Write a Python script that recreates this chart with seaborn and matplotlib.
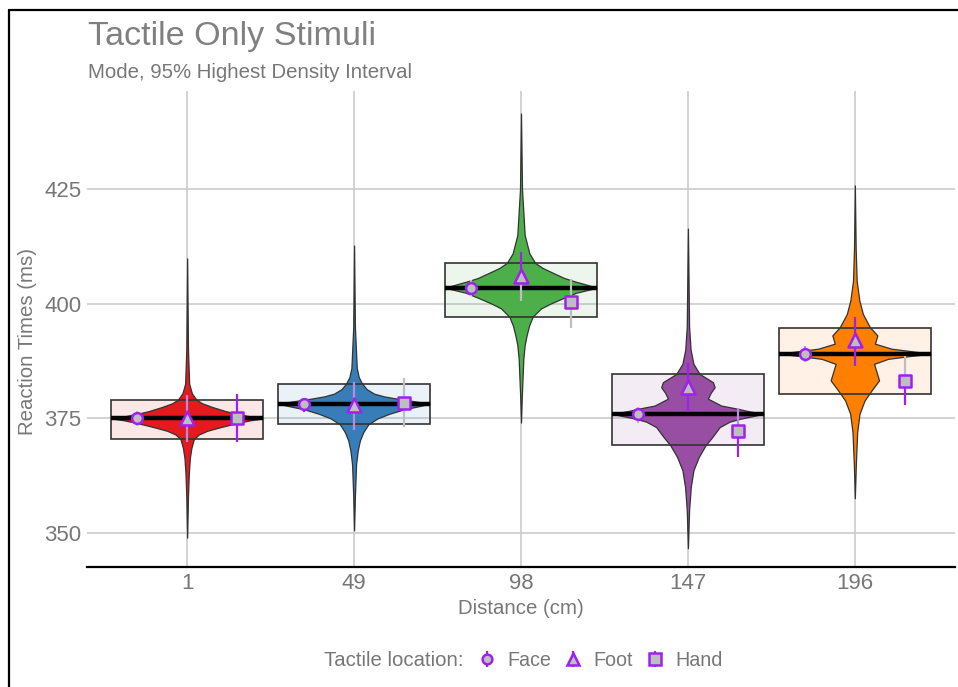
import numpy as np
import pandas as pd
import seaborn as sns
import matplotlib.pyplot as plt
from matplotlib.lines import Line2D
from matplotlib.legend_handler import HandlerTuple

# ----------------------------------------------------------------------
# DATA
# ----------------------------------------------------------------------

distances = ['1', '49', '98', '147', '196']
group_colors = ['#E41A1C', '#377EB8', '#4DAF4A', '#984EA3', '#FF7F00']

# overall mode and 95% HDI per distance
modes = [375.0, 378.2, 403.5, 376.0, 389.1]
hdi_lo = [370.5, 373.7, 397.2, 369.3, 380.4]
hdi_hi = [379.1, 382.6, 408.9, 384.7, 394.7]

# violin outlines: reaction time levels and half-widths (category units)
violin_y = [
    [349.0, 358.0, 363.0, 366.3, 368.5, 370.5, 371.5, 372.3, 373.1, 374.0, 374.6,
     375.0, 375.5, 376.0, 376.6, 377.5, 378.3, 379.1, 380.5, 382.6, 390.0, 409.9],
    [350.6, 358.0, 365.0, 368.0, 370.2, 372.0, 373.7, 375.0, 376.0, 377.0, 377.6,
     378.2, 378.7, 379.3, 379.8, 380.4, 381.4, 382.6, 384.0, 386.0, 395.0, 412.7],
    [374.1, 380.0, 388.0, 391.0, 393.0, 395.2, 397.2, 399.0, 400.1, 401.2, 402.4,
     403.5, 404.3, 404.8, 405.6, 406.6, 407.8, 408.9, 411.0, 415.0, 425.0, 441.5],
    [346.7, 355.0, 360.0, 363.7, 366.6, 369.1, 370.9, 373.1, 374.3, 374.9, 376.0,
     376.6, 377.1, 377.8, 379.3, 380.5, 381.8, 382.9, 384.7, 386.9, 390.0, 395.0, 416.4],
    [357.6, 365.0, 372.0, 376.0, 378.9, 381.1, 383.3, 385.1, 386.9, 388.0, 388.6,
     389.1, 389.7, 390.2, 391.3, 393.1, 394.9, 397.8, 400.7, 405.0, 412.0, 425.8],
]
violin_w = [
    [0, 0.005, 0.01, 0.016, 0.025, 0.04, 0.07, 0.12, 0.2, 0.3, 0.38,
     0.455, 0.37, 0.3, 0.23, 0.15, 0.09, 0.055, 0.028, 0.012, 0.005, 0],
    [0, 0.005, 0.012, 0.022, 0.035, 0.055, 0.085, 0.14, 0.21, 0.3, 0.38,
     0.455, 0.37, 0.26, 0.18, 0.12, 0.075, 0.048, 0.028, 0.016, 0.005, 0],
    [0, 0.005, 0.014, 0.022, 0.033, 0.048, 0.07, 0.12, 0.18, 0.25, 0.33,
     0.455, 0.38, 0.33, 0.26, 0.2, 0.13, 0.085, 0.05, 0.022, 0.006, 0],
    [0, 0.007, 0.017, 0.033, 0.065, 0.105, 0.145, 0.19, 0.25, 0.31, 0.455,
     0.36, 0.3, 0.2, 0.12, 0.135, 0.16, 0.15, 0.07, 0.033, 0.016, 0.007, 0],
    [0, 0.006, 0.014, 0.028, 0.058, 0.1, 0.145, 0.13, 0.115, 0.2, 0.33,
     0.455, 0.33, 0.22, 0.12, 0.135, 0.09, 0.048, 0.027, 0.011, 0.005, 0],
]

# per tactile location: mode and 95% HDI
locations = ['Face', 'Foot', 'Hand']
face_mode = [375.0, 378.2, 403.5, 376.0, 389.1]
face_lo = [373.3, 376.4, 401.7, 374.0, 387.3]
face_hi = [376.6, 379.5, 405.2, 377.5, 390.7]
foot_mode = [375.1, 377.9, 406.0, 381.8, 392.0]
foot_lo = [369.8, 372.5, 400.6, 376.4, 386.4]
foot_hi = [380.0, 382.9, 411.3, 387.1, 397.1]
hand_mode = [375.0, 378.4, 400.4, 372.2, 383.1]
hand_lo = [369.8, 373.1, 394.7, 366.6, 378.0]
hand_hi = [380.4, 383.8, 405.5, 377.3, 388.7]

# ----------------------------------------------------------------------
# STYLE
# ----------------------------------------------------------------------

GRAY = '#BEBEBE'
PURPLE = '#A020F0'
LAVENDER = '#B98BDF'
TXT = '#777777'

# colour of the range line below / above each marker
face_cols = [(GRAY, GRAY), (PURPLE, PURPLE), (GRAY, GRAY), (GRAY, GRAY), (GRAY, LAVENDER)]
foot_cols = [(LAVENDER, LAVENDER), (LAVENDER, LAVENDER), (GRAY, PURPLE), (PURPLE, PURPLE), (PURPLE, PURPLE)]
hand_cols = [(PURPLE, PURPLE), (GRAY, GRAY), (GRAY, GRAY), (PURPLE, LAVENDER), (PURPLE, GRAY)]

sns.set_theme(style="whitegrid")
plt.rcParams['font.family'] = ['Liberation Sans', 'DejaVu Sans']

points = pd.DataFrame({
    'x': np.concatenate([np.arange(5) - 0.3, np.arange(5), np.arange(5) + 0.3]),
    'mode': face_mode + foot_mode + hand_mode,
    'lo': face_lo + foot_lo + hand_lo,
    'hi': face_hi + foot_hi + hand_hi,
    'location': np.repeat(locations, 5),
})
line_cols = face_cols + foot_cols + hand_cols

fig = plt.figure(figsize=(9.58, 6.87), dpi=100)
ax = fig.add_axes([87 / 958, 1 - 567 / 687, 868 / 958, 476 / 687])

# boxes (HDI) - fill first
half = 0.455
ax.bar(range(5), np.array(hdi_hi) - np.array(hdi_lo), bottom=hdi_lo, width=2 * half,
       color=group_colors, alpha=0.1, linewidth=0, zorder=2)

# violins
for i in range(5):
    y = np.array(violin_y[i])
    w = np.array(violin_w[i])
    ax.fill_betweenx(y, i - w, i + w, color=group_colors[i], edgecolor='#333333',
                     linewidth=0.9, zorder=3)

# box outlines on top
ax.bar(range(5), np.array(hdi_hi) - np.array(hdi_lo), bottom=hdi_lo, width=2 * half,
       fill=False, edgecolor='#333333', linewidth=1.2, zorder=4)

# mode lines
ax.hlines(modes, np.arange(5) - half, np.arange(5) + half, color='black', linewidth=3.2, zorder=5)

# ranges
for (_, r), (c_lo, c_hi) in zip(points.iterrows(), line_cols):
    ax.vlines(r['x'], r['lo'], r['mode'], color=c_lo, linewidth=1.6, zorder=6)
    ax.vlines(r['x'], r['mode'], r['hi'], color=c_hi, linewidth=1.6, zorder=6)

# markers
marker_map = {'Face': 'o', 'Foot': '^', 'Hand': 's'}
size_map = {'Face': 60, 'Foot': 100, 'Hand': 70}
for loc in locations:
    sub = points[points['location'] == loc]
    sns.scatterplot(data=sub, x='x', y='mode', marker=marker_map[loc], s=size_map[loc],
                    color=GRAY, edgecolor=PURPLE, linewidth=1.8, ax=ax, zorder=7, legend=False)

# axes
ax.set_xlim(-0.6, 4.6)
ax.set_ylim(342.6, 446.4)
ax.set_xticks(range(5))
ax.set_xticklabels(distances)
ax.set_yticks([350, 375, 400, 425])
ax.tick_params(axis='both', labelsize=16, labelcolor=TXT, length=0, pad=4)
ax.grid(True, color='#CCCCCC', linewidth=1.2)
ax.set_axisbelow(True)
ax.set_facecolor('white')
for s in ['top', 'right', 'left']:
    ax.spines[s].set_visible(False)
ax.spines['bottom'].set_color('black')
ax.spines['bottom'].set_linewidth(1.6)
ax.set_xlabel("Distance (cm)", fontsize=14.7, color=TXT, labelpad=4)
ax.set_ylabel("Reaction Times (ms)", fontsize=14.7, color=TXT)
ax.yaxis.set_label_coords(-0.058, 0.473)

# titles
fig.text(88 / 958, 1 - 36 / 687, "Tactile Only Stimuli", fontsize=24.6, color='#808080',
         ha='left', va='center')
fig.text(88 / 958, 1 - 72 / 687, "Mode, 95% Highest Density Interval", fontsize=14.7,
         color=TXT, ha='left', va='center')

# legend
fig.text(324 / 958, 1 - 660 / 687, "Tactile location:", fontsize=14.7, color=TXT,
         ha='left', va='center')
handles = []
for loc in locations:
    bar = Line2D([], [], ls='', marker='|', color=PURPLE, markersize=11, markeredgewidth=1.6)
    mk = Line2D([], [], ls='', marker=marker_map[loc], markerfacecolor=GRAY,
                markeredgecolor=PURPLE, markeredgewidth=1.8,
                markersize=7 if loc == 'Face' else 8.5)
    handles.append((bar, mk))
leg = fig.legend(handles, locations, handler_map={tuple: HandlerTuple(ndivide=1)},
                 loc='center left', bbox_to_anchor=(477 / 958, 1 - 660 / 687), ncol=3,
                 frameon=False, fontsize=14.2, handlelength=1.0, handletextpad=0.55,
                 columnspacing=0.6, borderpad=0, borderaxespad=0)
for t in leg.get_texts():
    t.set_color(TXT)

# outer frame (top and left edges visible)
fig.add_artist(Line2D([9 / 958, 9 / 958], [0, 1 - 10 / 687], color='black', linewidth=1.6,
                      transform=fig.transFigure))
fig.add_artist(Line2D([9 / 958, 1], [1 - 10 / 687, 1 - 10 / 687], color='black', linewidth=1.6,
                      transform=fig.transFigure))

fig.savefig("out.png", dpi=100)
